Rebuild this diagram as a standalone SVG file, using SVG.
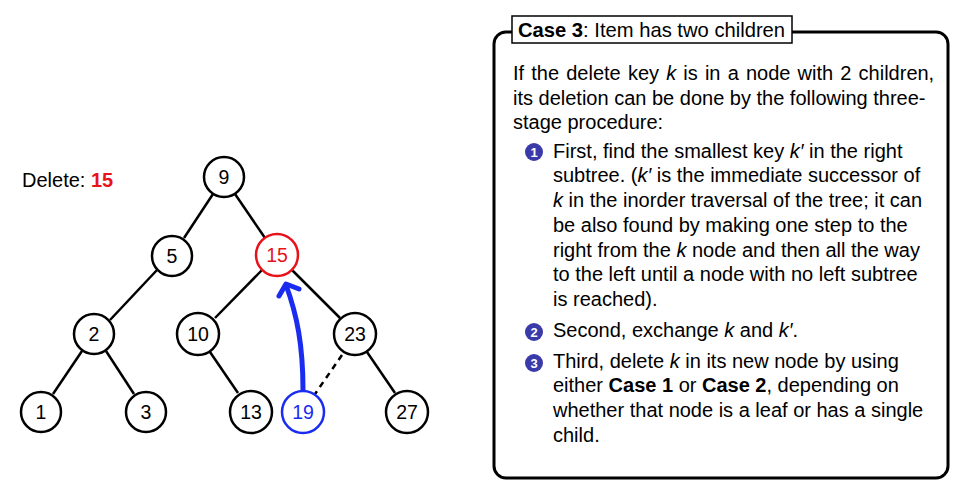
<svg xmlns="http://www.w3.org/2000/svg" width="964" height="500" viewBox="0 0 964 500">
<defs>
<style>
text{font-family:"Liberation Sans",Arial,sans-serif;}
.n circle{fill:#fff;stroke:#000;stroke-width:2.5;}
.n text{font-size:19.5px;text-anchor:middle;}
.e line{stroke:#000;stroke-width:2.5;}
.body{font-size:20px;fill:#000;}
.bul circle{fill:#3a3aa8;}
.bul text{fill:#fff;font-size:13px;font-weight:bold;text-anchor:middle;}
</style>
</defs>
<rect width="964" height="500" fill="#fff"/>
<text x="22" y="187" font-size="20">Delete: <tspan fill="#e8121b" font-weight="bold">15</tspan></text>
<g id="connectors" class="e">
<line x1="213" y1="194" x2="184" y2="238"/>
<line x1="235" y1="194" x2="265" y2="238"/>
<line x1="157" y1="270" x2="110" y2="320"/>
<line x1="262" y1="270" x2="215" y2="318"/>
<line x1="292" y1="270" x2="340" y2="318"/>
<line x1="82" y1="351" x2="53" y2="394"/>
<line x1="106" y1="351" x2="134" y2="394"/>
<line x1="210" y1="352" x2="238" y2="393"/>
<line x1="367" y1="352" x2="395" y2="393"/>
<line x1="342" y1="355" x2="315" y2="394" stroke-dasharray="6,5"/>
<path d="M303,390 C303,345 297,315 286,285" fill="none" stroke="#1a2cf0" stroke-width="5" stroke-linecap="round"/>
<path d="M279,296 L286,284 L299,289" fill="none" stroke="#1a2cf0" stroke-width="5" stroke-linecap="round" stroke-linejoin="round"/>
</g>
<g id="n9" class="n"><circle cx="224" cy="177" r="20"/><text x="224" y="184">9</text></g>
<g id="n5" class="n"><circle cx="172" cy="256" r="20"/><text x="172" y="263">5</text></g>
<g id="n15" class="n"><circle cx="277" cy="255" r="21" style="stroke:#e8121b"/><text x="277" y="262" fill="#e8121b">15</text></g>
<g id="n2" class="n"><circle cx="94" cy="334" r="20"/><text x="94" y="341">2</text></g>
<g id="n10" class="n"><circle cx="198" cy="334" r="21"/><text x="198" y="341">10</text></g>
<g id="n23" class="n"><circle cx="355" cy="334" r="21"/><text x="355" y="341">23</text></g>
<g id="n1" class="n"><circle cx="41" cy="412" r="20"/><text x="41" y="419">1</text></g>
<g id="n3" class="n"><circle cx="146" cy="412" r="20"/><text x="146" y="419">3</text></g>
<g id="n13" class="n"><circle cx="251" cy="412" r="21"/><text x="251" y="419">13</text></g>
<g id="n19" class="n"><circle cx="303" cy="412" r="21" style="stroke:#1a2cf0"/><text x="303" y="419" fill="#1a2cf0">19</text></g>
<g id="n27" class="n"><circle cx="407" cy="412" r="21"/><text x="407" y="419">27</text></g>
<g id="casebox">
<rect x="494" y="32" width="454" height="446" rx="12" fill="#fff" stroke="#000" stroke-width="3"/>
<rect x="512" y="16" width="280" height="27" fill="#fff" stroke="#000" stroke-width="1.5"/>
<text x="518" y="37" font-size="20.2"><tspan font-weight="bold">Case 3</tspan>: Item has two children</text>
<g class="body">
<text class="body" x="513" y="80" word-spacing="1.6">If the delete key <tspan font-style="italic">k</tspan> is in a node with 2 children,</text>
<text class="body" x="513" y="105">its deletion can be done by the following three-</text>
<text class="body" x="513" y="129">stage procedure:</text>
<text class="body" x="553" y="158">First, find the smallest key <tspan font-style="italic">k′</tspan> in the right</text>
<text class="body" x="553" y="182">subtree. (<tspan font-style="italic">k′</tspan> is the immediate successor of</text>
<text class="body" x="553" y="207"><tspan font-style="italic">k</tspan> in the inorder traversal of the tree; it can</text>
<text class="body" x="553" y="232">be also found by making one step to the</text>
<text class="body" x="553" y="257">right from the <tspan font-style="italic">k</tspan> node and then all the way</text>
<text class="body" x="553" y="281">to the left until a node with no left subtree</text>
<text class="body" x="553" y="306">is reached).</text>
<text class="body" x="553" y="337">Second, exchange <tspan font-style="italic">k</tspan> and <tspan font-style="italic">k′</tspan>.</text>
<text class="body" x="553" y="368">Third, delete <tspan font-style="italic">k</tspan> in its new node by using</text>
<text class="body" x="553" y="392">either <tspan font-weight="bold">Case 1</tspan> or <tspan font-weight="bold">Case 2</tspan>, depending on</text>
<text class="body" x="553" y="417">whether that node is a leaf or has a single</text>
<text class="body" x="553" y="442">child.</text>
</g>
<g class="bul"><circle cx="534" cy="152" r="9"/><text x="534" y="156.5">1</text></g>
<g class="bul"><circle cx="534" cy="332" r="9"/><text x="534" y="336.5">2</text></g>
<g class="bul"><circle cx="534" cy="363" r="9"/><text x="534" y="367.5">3</text></g>
</g>
</svg>
